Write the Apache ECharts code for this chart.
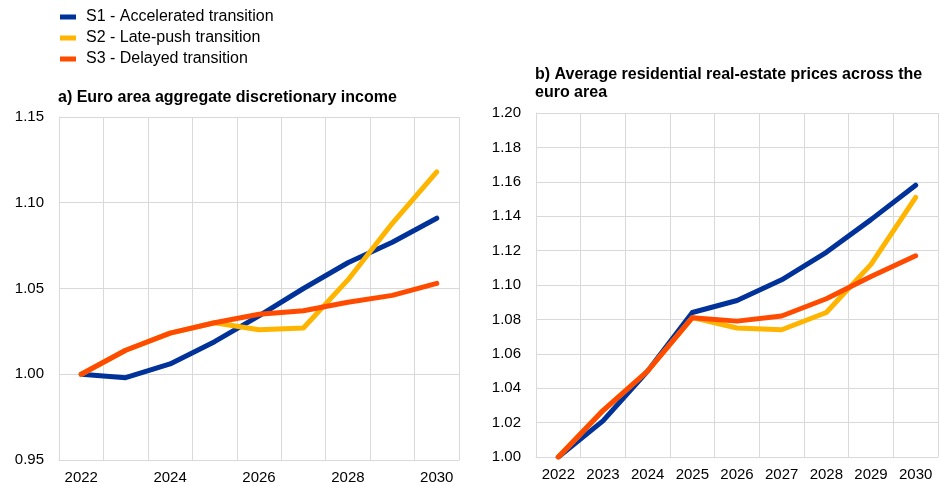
<!DOCTYPE html>
<html>
<head>
<meta charset="utf-8">
<script src="https://cdn.jsdelivr.net/npm/echarts@6/dist/echarts.min.js"></script>
<style>
  html, body { margin: 0; padding: 0; background: #ffffff; }
  #chart { width: 939px; height: 485px; }
</style>
</head>
<body>
<div id="chart"></div>
<script>
// Years shown on both panels
const years = ['2022', '2023', '2024', '2025', '2026', '2027', '2028', '2029', '2030'];

// Scenario names
const scenarioNames = ['S1 - Accelerated transition', 'S2 - Late-push transition', 'S3 - Delayed transition'];

// Panel a) Euro area aggregate discretionary income (index, 2022 = 1)
const incomeS1 = [1.000, 0.998, 1.006, 1.019, 1.034, 1.050, 1.065, 1.077, 1.091];
const incomeS2 = [1.000, 1.014, 1.024, 1.030, 1.026, 1.027, 1.055, 1.088, 1.118];
const incomeS3 = [1.000, 1.014, 1.024, 1.030, 1.035, 1.037, 1.042, 1.046, 1.053];

// Panel b) Average residential real-estate prices (index, 2022 = 1)
const houseS1 = [1.000, 1.021, 1.050, 1.084, 1.091, 1.103, 1.119, 1.138, 1.158];
const houseS2 = [1.000, 1.027, 1.050, 1.081, 1.075, 1.074, 1.084, 1.112, 1.151];
const houseS3 = [1.000, 1.027, 1.050, 1.081, 1.079, 1.082, 1.092, 1.105, 1.117];

const colors = ['#003299', '#FFB400', '#FF4B00'];
const gridColor = '#d9d9d9';
const font = 'Liberation Sans, Arial, sans-serif';

function lineSeries(name, data, idx, color) {
  return {
    name: name,
    type: 'line',
    xAxisIndex: idx,
    yAxisIndex: idx,
    data: data,
    symbol: 'none',
    lineStyle: { width: 5, color: color, cap: 'round', join: 'round' },
    itemStyle: { color: color },
    emphasis: { disabled: true },
    animation: false
  };
}

function catAxis(gridIndex, labelInterval) {
  return {
    type: 'category',
    gridIndex: gridIndex,
    data: years,
    boundaryGap: true,
    axisLine: { show: true, lineStyle: { color: gridColor, width: 1 } },
    axisTick: { show: false },
    axisLabel: { interval: labelInterval, color: '#000', fontSize: 15, fontFamily: font, margin: 10 },
    splitLine: { show: true, interval: 0, lineStyle: { color: gridColor, width: 1 } }
  };
}

function valAxis(gridIndex, min, max, interval) {
  return {
    type: 'value',
    gridIndex: gridIndex,
    min: min,
    max: max,
    interval: interval,
    axisLine: { show: true, lineStyle: { color: gridColor, width: 1 } },
    axisTick: { show: false },
    axisLabel: {
      color: '#000', fontSize: 15, fontFamily: font, margin: 15,
      formatter: v => v.toFixed(2)
    },
    splitLine: { show: true, lineStyle: { color: gridColor, width: 1 } }
  };
}

const chart = echarts.init(document.getElementById('chart'), null, { renderer: 'canvas' });

chart.setOption({
  backgroundColor: '#ffffff',
  animation: false,
  color: colors,
  title: [
    {
      text: 'a) Euro area aggregate discretionary income',
      left: 58, top: 89, padding: 0,
      textStyle: { fontSize: 16, fontWeight: 'bold', color: '#000', fontFamily: font, lineHeight: 18 }
    },
    {
      text: 'b) Average residential real-estate prices across the\neuro area',
      left: 535, top: 66, padding: 0,
      textStyle: { fontSize: 16, fontWeight: 'bold', color: '#000', fontFamily: font, lineHeight: 18 }
    }
  ],
  legend: {
    data: scenarioNames,
    orient: 'vertical',
    left: 60, top: 9, padding: 0,
    itemWidth: 16, itemHeight: 5, itemGap: 5,
    icon: 'rect',
    selectedMode: false,
    textStyle: { fontSize: 16, color: '#000', fontFamily: font, padding: [0, 0, 0, 5] }
  },
  grid: [
    { left: 59, top: 117, width: 400, height: 344, containLabel: false },
    { left: 536, top: 113, width: 402, height: 344, containLabel: false }
  ],
  xAxis: [catAxis(0, 1), catAxis(1, 0)],
  yAxis: [valAxis(0, 0.95, 1.15, 0.05), valAxis(1, 1.00, 1.20, 0.02)],
  series: [
    lineSeries(scenarioNames[0], incomeS1, 0, colors[0]),
    lineSeries(scenarioNames[1], incomeS2, 0, colors[1]),
    lineSeries(scenarioNames[2], incomeS3, 0, colors[2]),
    lineSeries(scenarioNames[0], houseS1, 1, colors[0]),
    lineSeries(scenarioNames[1], houseS2, 1, colors[1]),
    lineSeries(scenarioNames[2], houseS3, 1, colors[2])
  ]
});
</script>
</body>
</html>
